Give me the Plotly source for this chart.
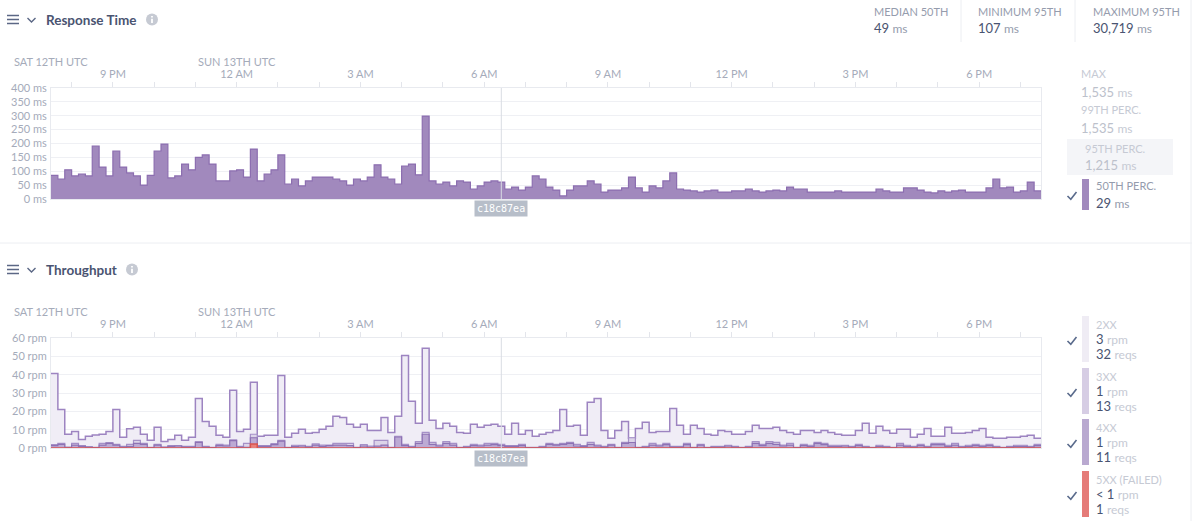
import pandas as pd
import plotly.graph_objects as go

W, H = 1192, 521

# 10 minute buckets, Sat 12th 19:30 UTC -> Sun 13th 19:30 UTC
start = pd.Timestamp("2020-12-12 19:30")
times = list(pd.date_range(start, periods=144, freq="10min"))
end = start + pd.Timedelta(hours=24)
deploy_time = pd.Timestamp("2020-12-13 06:25")
deploy_sha = "c18c87ea"

# response time, 50th percentile (ms)
resp_ms = [
    85, 72, 105, 83, 90, 83, 191, 115, 83, 173, 115, 94, 83, 50, 85, 173, 198, 76, 83, 126,
    105, 150, 159, 126, 65, 65, 101, 105, 79, 180, 65, 90, 105, 159, 54, 72, 47, 65, 79, 79,
    79, 72, 65, 50, 72, 65, 79, 123,
    79, 72, 54, 119, 126, 87, 299, 65, 54, 61, 47, 65, 61, 36, 47, 61, 65, 61, 36, 43,
    32, 43, 83, 72, 43, 32, 11, 32, 47, 47, 65, 54, 25, 32, 32, 40, 79, 40, 25, 47,
    40, 65, 94, 36, 32, 29, 25, 29,
    32, 25, 25, 29, 29, 36, 29, 25, 29, 32, 29, 43, 36, 36, 25, 25, 25, 25, 29, 25,
    25, 25, 25, 25, 36, 29, 25, 25, 40, 40, 32, 25, 22, 29, 25, 29, 32, 25, 25, 25,
    40, 72, 40, 43, 25, 29, 61, 29,
]

# throughput by status class (rpm)
rpm_2xx = [
    40.7, 21, 7.5, 9, 4.7, 6.4, 7.1, 7.5, 9, 21, 5.8, 10.5, 11.3, 7.5, 4.2, 11.3, 3.6, 4.7, 6.9, 4.2,
    5.8, 27, 14.5, 11.8, 6.9, 5.8, 31.5, 9, 10.2, 35.8, 6.4, 6.9, 6.9, 39.6, 5.8, 8, 10.2, 8, 8.5, 10.2,
    11.8, 17.3, 16.7, 12.9, 11.3, 12.9, 9.6, 9.6,
    16.7, 8.5, 17.3, 50.5, 25.5, 13.5, 54.4, 15.1, 10.7, 13.5, 11.8, 8.5, 8, 12.9, 11.3, 12.4, 12.9, 11.8, 7.5, 13.5,
    7.5, 9.6, 6.4, 7.5, 8.5, 9.6, 21, 11.8, 12.4, 6.9, 24.9, 27, 9.6, 5.3, 9.6, 14.5, 5.3, 10.7, 14, 8.5,
    9, 9, 21.6, 12.4, 7.5, 12.4, 10.7, 7.5,
    6.9, 9.6, 9, 7.5, 7.5, 9, 12.4, 10.7, 10.7, 11.3, 9.6, 8.5, 7.5, 9.6, 9.6, 8.5, 9.6, 8.5, 7.5, 6.9,
    6.9, 9.6, 13.5, 8, 11.8, 9.6, 8, 10.2, 10.2, 5.8, 7.5, 10.7, 6.4, 6.4, 11.3, 8, 8, 8.5, 9.6, 10.7,
    5.8, 5.3, 5.3, 5.8, 5.8, 6.4, 6.9, 5.3,
]
rpm_3xx = [
    1.8, 2.5, 0.4, 2.5, 1.3, 0.7, 0.4, 2.5, 3.0, 2.0, 0.9, 2.0, 4.2, 2.5, 0.4, 2.0, 0.5, 1.3, 1.3, 0.9,
    0.9, 3.5, 0.9, 0.4, 2.0, 1.6, 4.5, 0.9, 2.5, 7.5, 1.3, 1.3, 2.4, 4.2, 0.4, 1.5, 1.5, 0.9, 2.2, 1.6,
    1.6, 2.5, 2.5, 2.5, 0.4, 1.8, 1.1, 4.2,
    4.2, 0.4, 6.4, 2.0, 0.9, 3.5, 8.5, 3.1, 1.6, 3.5, 2.5, 0.4, 0.9, 2.0, 1.6, 2.5, 2.5, 2.0, 1.3, 1.3,
    2.0, 0.4, 0.4, 0.9, 2.5, 2.0, 2.5, 3.1, 2.0, 1.3, 3.1, 1.6, 0.9, 2.0, 0.4, 3.1, 5.6, 0.4, 0.9, 2.5,
    1.6, 2.5, 0.9, 0.9, 2.5, 0.4, 2.0, 0.4,
    0.9, 0.9, 1.5, 0.9, 0.4, 0.9, 3.5, 2.0, 3.5, 3.1, 1.6, 2.5, 0.4, 2.0, 1.5, 3.1, 2.5, 1.5, 1.5, 1.5,
    0.9, 2.0, 0.9, 0.4, 1.5, 0.9, 0.4, 2.5, 1.5, 0.9, 2.0, 0.9, 2.5, 2.5, 1.5, 2.5, 0.9, 1.5, 2.0, 1.5,
    2.0, 0.9, 0.4, 0.9, 1.5, 1.5, 0.9, 2.0,
]
rpm_4xx = [
    1.3, 2.0, 0.4, 1.6, 0.9, 0.4, 0.2, 1.6, 2.5, 1.6, 0.5, 0.9, 2.5, 2.0, 0.2, 1.6, 0.4, 0.9, 1.1, 0.5,
    0.5, 3.0, 0.5, 0.2, 1.3, 1.1, 4.0, 0.5, 0.4, 5.6, 0.9, 0.9, 1.8, 3.8, 0.2, 0.9, 1.1, 0.5, 1.6, 0.9,
    1.3, 1.6, 1.6, 1.3, 0.2, 1.1, 0.5, 1.0,
    1.6, 0.2, 6.0, 1.3, 0.5, 2.5, 7.5, 2.0, 1.1, 2.5, 1.6, 0.2, 0.5, 1.3, 1.1, 1.6, 1.8, 1.3, 0.9, 0.9,
    1.3, 0.2, 0.2, 0.5, 2.0, 1.6, 2.0, 2.5, 1.1, 0.9, 2.0, 1.1, 0.5, 1.6, 0.2, 2.5, 3.0, 0.2, 0.5, 1.6,
    1.1, 1.8, 0.5, 0.5, 1.8, 0.2, 1.6, 0.2,
    0.5, 0.5, 1.1, 0.5, 0.2, 0.5, 2.5, 1.3, 2.5, 2.0, 1.1, 1.6, 0.2, 1.3, 0.9, 2.5, 1.8, 0.9, 0.9, 1.1,
    0.5, 1.3, 0.5, 0.2, 0.9, 0.5, 0.2, 1.6, 0.9, 0.5, 1.3, 0.5, 1.8, 1.8, 0.9, 1.6, 0.5, 0.9, 1.3, 0.9,
    1.3, 0.5, 0.2, 0.5, 0.9, 0.9, 0.5, 1.3,
]
rpm_5xx = [0] * 29 + [2.2] + [0] * 114

# summary numbers
stats = [("MEDIAN 50TH", "49"), ("MINIMUM 95TH", "107"), ("MAXIMUM 95TH", "30,719")]
resp_legend = [("MAX", "1,535"), ("99TH PERC.", "1,535"), ("95TH PERC.", "1,215"), ("50TH PERC.", "29")]
tp_legend = [
    ("2XX", "3", "32", "#efecf4"),
    ("3XX", "1", "13", "#d6cde4"),
    ("4XX", "1", "11", "#b9a9d0"),
    ("5XX (FAILED)", "< 1", "1", "#e57b78"),
]

FONT = "Lato"
DARK = "#4a5471"
MUTED = "#959cad"
FADED = "#c6cad4"
TICK = "#a5abba"
GRID = "#eff0f4"


def px(x):
    return x / W


def py(y):
    return 1 - y / H


def step(vals):
    return times + [end], list(vals) + [vals[-1]]


fig = go.Figure()

xs, ys = step(resp_ms)
fig.add_trace(go.Scatter(x=xs, y=ys, mode="lines", line=dict(shape="hv", color="#8c6eb0", width=1.2),
                         fill="tozeroy", fillcolor="#a189bd", xaxis="x", yaxis="y"))

series = [
    (rpm_2xx, "#9d84c1", "#f0edf6", 1.5),
    (rpm_3xx, "#a590c7", "#dcd4e9", 1.2),
    (rpm_4xx, "#8d72b4", "#bcaad4", 1.2),
    (rpm_5xx, "#d9534f", "#e8807c", 1.5),
]
for vals, lc, fc, lw in series:
    xs, ys = step(vals)
    fig.add_trace(go.Scatter(x=xs, y=ys, mode="lines", line=dict(shape="hv", color=lc, width=lw),
                             fill="tozeroy", fillcolor=fc, xaxis="x2", yaxis="y2"))

xdom = [px(51), px(1041)]
xcommon = dict(
    domain=xdom, type="date", range=[start, end], side="top",
    tickformat="%-I %p", dtick=3 * 3600000, tick0="2020-12-12 00:00",
    ticks="outside", ticklen=5, tickcolor="#e3e5eb",
    minor=dict(dtick=3600000, ticks="outside", ticklen=5, tickcolor="#e3e5eb", showgrid=False),
    showgrid=False, showline=True, linecolor="#e8eaef", mirror=True,
    tickfont=dict(size=11, color=TICK, family=FONT), automargin=False, fixedrange=True,
)
ycommon = dict(
    showgrid=True, gridcolor=GRID, zeroline=False, showline=True, linecolor="#e8eaef", mirror=True,
    tickfont=dict(size=11, color=TICK, family=FONT), automargin=False, ticklabelstandoff=1,
    fixedrange=True,
)

fig.update_layout(
    width=W, height=H, margin=dict(l=0, r=0, t=0, b=0),
    paper_bgcolor="white", plot_bgcolor="white", showlegend=False, hovermode=False,
    font=dict(family=FONT),
    xaxis=dict(anchor="y", **xcommon),
    yaxis=dict(domain=[py(199), py(88)], range=[0, 400], dtick=50, ticksuffix=" ms", **ycommon),
    xaxis2=dict(anchor="y2", **xcommon),
    yaxis2=dict(domain=[py(448), py(338)], range=[0, 60], dtick=10, ticksuffix=" rpm", **ycommon),
)

shapes = []
ann = []


def text(x, y, s, size=11, color=MUTED, bold=False):
    if bold:
        s = "<b>" + s + "</b>"
    ann.append(dict(x=px(x), y=py(y), xref="paper", yref="paper", text=s, showarrow=False,
                    xanchor="left", yanchor="middle", font=dict(size=size, color=color, family=FONT)))


def value(x, y, num, unit, ncolor=DARK, ucolor=MUTED, size=13):
    s = "<span style='color:%s'>%s</span> <span style='font-size:%dpx;color:%s'>%s</span>" % (
        ncolor, num, size - 1, ucolor, unit)
    ann.append(dict(x=px(x), y=py(y), xref="paper", yref="paper", text=s, showarrow=False,
                    xanchor="left", yanchor="middle", font=dict(size=size, family=FONT)))


def line(x0, y0, x1, y1, color, width=1):
    shapes.append(dict(type="line", xref="paper", yref="paper", x0=px(x0), y0=py(y0),
                       x1=px(x1), y1=py(y1), line=dict(color=color, width=width)))


def rect(x0, y0, x1, y1, color, layer="below"):
    shapes.append(dict(type="rect", xref="paper", yref="paper", x0=px(x0), y0=py(y0),
                       x1=px(x1), y1=py(y1), fillcolor=color, line=dict(width=0), layer=layer))


def poly(pts, color, width):
    path = "M" + " L".join("%f,%f" % (px(a), py(b)) for a, b in pts)
    shapes.append(dict(type="path", xref="paper", yref="paper", path=path,
                       line=dict(color=color, width=width)))


def check(cx, cy):
    poly([(cx - 4.5, cy), (cx - 1.2, cy + 3.3), (cx + 4.5, cy - 4)], "#5a6b8c", 1.6)


def header(y, title, info_x):
    for dy in (-4, 0, 4):
        line(7, y + dy, 19, y + dy, "#5b6785", 1.5)
    poly([(27.5, y - 1.5), (31.5, y + 2.5), (35.5, y - 1.5)], "#5b6785", 1.4)
    text(44, y, title, size=13.5, color=DARK, bold=True)
    shapes.append(dict(type="circle", xref="paper", yref="paper", x0=px(info_x - 6), x1=px(info_x + 6),
                       y0=py(y - 6), y1=py(y + 6), fillcolor="#c6cad3", line=dict(width=0), layer="above"))
    # the "i" glyph of the info icon
    rect(info_x - 0.9, y - 3.6, info_x + 0.9, y - 1.9, "white", layer="above")
    rect(info_x - 0.9, y - 0.8, info_x + 0.9, y + 3.6, "white", layer="above")


header(19.5, "Response Time", 152)
header(269.5, "Throughput", 132)

# stats strip
for i, (lab, num) in enumerate(stats):
    x0 = [872, 976, 1091][i]
    text(x0, 11, lab, size=11, color=MUTED)
    value(x0, 28, num, "ms")
line(961, 0, 961, 42, "#eceef2")
line(1075, 0, 1075, 42, "#eceef2")

# panel separators
line(0, 243, W, 243, "#eceef2")
line(W - 1, 0, W - 1, H, "#eceef2")

# day labels and deploy marker for both charts
for xa, ya, top, bot in (("x", "y", 61, 208), ("x2", "y2", 311, 458)):
    for t, lab in ((start, "SAT 12TH UTC"), (pd.Timestamp("2020-12-13 00:00"), "SUN 13TH UTC")):
        ann.append(dict(x=t, y=py(top), xref=xa, yref="paper", text=lab, showarrow=False,
                        xanchor="center", yanchor="middle", font=dict(size=11, color=TICK, family=FONT)))
    shapes.append(dict(type="line", xref=xa, yref=ya + " domain", x0=deploy_time, x1=deploy_time,
                       y0=0, y1=1, line=dict(color="#d9dce3", width=1), layer="above"))
    ann.append(dict(x=deploy_time, y=py(bot), xref=xa, yref="paper", text=deploy_sha, showarrow=False,
                    xanchor="center", yanchor="middle", bgcolor="#b7bec9", borderpad=2,
                    font=dict(size=10, color="white", family="DejaVu Sans Mono")))

# response time legend
ry = [(73, 92), (110, 128), (149, 165)]
for (lab, num), (y1, y2) in zip(resp_legend[:2], ry[:2]):
    text(1079, y1, lab, size=11, color=FADED)
    value(1079, y2, num, "ms", ncolor="#bcc1cb", ucolor=FADED)
rect(1067, 139, 1173, 175, "#f4f5f8")
text(1083, 149, resp_legend[2][0], size=11, color=FADED)
value(1083, 165, resp_legend[2][1], "ms", ncolor="#bcc1cb", ucolor=FADED)
rect(1082, 179, 1089, 210, "#a189bd")
check(1072, 196)
text(1094, 186, resp_legend[3][0], size=11, color=MUTED)
value(1094, 203, resp_legend[3][1], "ms")

# throughput legend
for i, (lab, rpm, reqs, col) in enumerate(tp_legend):
    top = [316, 368, 419, 471][i]
    rect(1082, top, 1089, top + 46, col)
    check(1072, top + 25)
    text(1094, top + 8, lab, size=11, color=FADED)
    value(1094, top + 23, rpm, "rpm", ucolor=FADED)
    value(1094, top + 38, reqs, "reqs", ucolor=FADED)

fig.update_layout(shapes=shapes, annotations=ann)
# drop the page's default body margin so the figure sits at the window's corner
fig.write_html("out.html", config={"displayModeBar": False},
               post_script="document.body.style.margin='0';")
